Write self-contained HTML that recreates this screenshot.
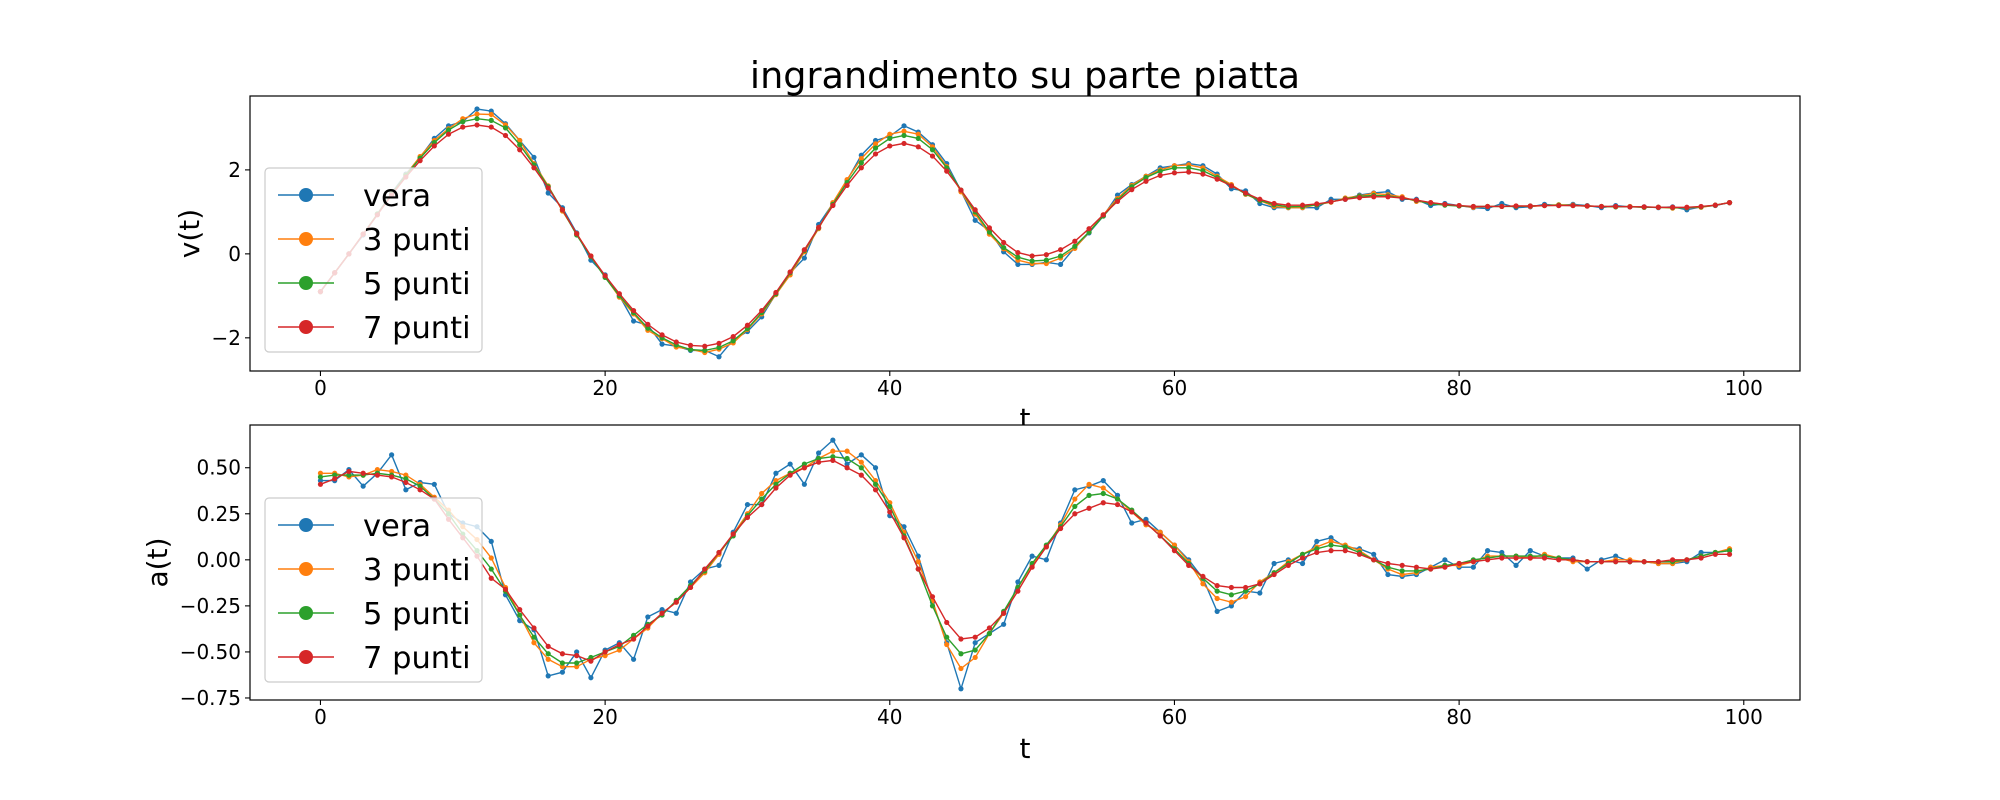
<!DOCTYPE html>
<html><head><meta charset="utf-8"><style>
html,body{margin:0;padding:0;background:#fff;}
svg{display:block;font-family:"DejaVu Sans","Liberation Sans",sans-serif;}
</style></head><body>
<svg id="fig" width="2000" height="800" viewBox="0 0 2000 800" xmlns="http://www.w3.org/2000/svg">
<rect width="2000" height="800" fill="#fff"/>
<text x="1025" y="88" font-size="36.6" text-anchor="middle">ingrandimento su parte piatta</text>
<g id="top"></g>
<text x="1025" y="428" font-size="28" text-anchor="middle">t</text>
<g id="bot"></g>
<text x="1025" y="758" font-size="28" text-anchor="middle">t</text>
</svg>
<script>
const tValues=[];for(let i=0;i<100;i++)tValues.push(i);
const seriesNames=["vera","3 punti","5 punti","7 punti"];
const xTicks=[0,20,40,60,80,100];
const vTicks=[-2,0,2];
const aTicks=[-0.75,-0.5,-0.25,0,0.25,0.5];
const aTickLabels=["\u22120.75","\u22120.50","\u22120.25","0.00","0.25","0.50"];
const vTickLabels=["\u22122","0","2"];
const vVera=[-0.9,-0.45,0,0.45,0.95,1.45,1.9,2.3,2.75,3.05,3.15,3.45,3.4,3.1,2.7,2.3,1.45,1.1,0.5,-0.15,-0.5,-1,-1.6,-1.7,-2.15,-2.2,-2.3,-2.3,-2.45,-2.05,-1.85,-1.5,-0.95,-0.45,-0.1,0.7,1.2,1.75,2.35,2.7,2.8,3.05,2.9,2.6,2.15,1.5,0.8,0.55,0.05,-0.25,-0.25,-0.2,-0.25,0.15,0.5,0.9,1.4,1.65,1.85,2.05,2.1,2.15,2.1,1.9,1.55,1.5,1.2,1.1,1.1,1.1,1.1,1.3,1.3,1.4,1.45,1.48,1.3,1.3,1.15,1.2,1.15,1.1,1.08,1.2,1.1,1.12,1.18,1.15,1.18,1.15,1.1,1.15,1.12,1.12,1.1,1.12,1.05,1.12,1.15,1.22];
const v3=[-0.9,-0.45,0,0.47,0.95,1.43,1.88,2.32,2.7,2.98,3.22,3.33,3.32,3.07,2.7,2.15,1.62,1.02,0.48,-0.05,-0.55,-1.03,-1.43,-1.82,-2.02,-2.22,-2.27,-2.35,-2.27,-2.12,-1.8,-1.43,-0.97,-0.5,0.05,0.6,1.22,1.77,2.27,2.62,2.85,2.92,2.85,2.55,2.08,1.48,0.95,0.47,0.12,-0.15,-0.23,-0.23,-0.1,0.13,0.52,0.93,1.32,1.63,1.85,2,2.1,2.12,2.05,1.85,1.65,1.42,1.27,1.13,1.1,1.1,1.17,1.23,1.33,1.38,1.44,1.41,1.36,1.25,1.22,1.17,1.15,1.11,1.13,1.13,1.14,1.13,1.15,1.17,1.16,1.14,1.13,1.12,1.13,1.11,1.11,1.09,1.1,1.11,1.16,1.22];
const v5=[-0.9,-0.45,0,0.47,0.95,1.42,1.87,2.28,2.65,2.95,3.15,3.22,3.18,3,2.6,2.12,1.6,1.05,0.45,-0.07,-0.56,-1,-1.4,-1.77,-2,-2.17,-2.28,-2.3,-2.23,-2.07,-1.78,-1.4,-0.95,-0.45,0.08,0.62,1.18,1.7,2.17,2.52,2.75,2.82,2.75,2.48,2.05,1.52,1,0.52,0.15,-0.08,-0.17,-0.15,-0.05,0.18,0.52,0.9,1.28,1.6,1.82,1.97,2.05,2.05,1.98,1.82,1.62,1.43,1.27,1.17,1.12,1.13,1.17,1.24,1.31,1.37,1.39,1.38,1.33,1.27,1.2,1.16,1.14,1.13,1.13,1.13,1.13,1.14,1.15,1.16,1.15,1.14,1.13,1.12,1.12,1.11,1.11,1.1,1.1,1.12,1.16,1.22];
const v7=[-0.9,-0.45,0,0.47,0.93,1.4,1.83,2.22,2.57,2.85,3.02,3.07,3.02,2.82,2.48,2.05,1.57,1.05,0.48,-0.05,-0.52,-0.95,-1.35,-1.68,-1.93,-2.1,-2.18,-2.2,-2.13,-1.97,-1.7,-1.35,-0.92,-0.43,0.1,0.63,1.15,1.63,2.05,2.38,2.57,2.63,2.55,2.33,1.97,1.52,1.05,0.62,0.27,0.03,-0.05,-0.02,0.1,0.3,0.6,0.93,1.25,1.53,1.73,1.87,1.93,1.95,1.9,1.78,1.62,1.45,1.3,1.2,1.16,1.16,1.19,1.24,1.3,1.34,1.36,1.36,1.33,1.28,1.22,1.18,1.15,1.13,1.13,1.13,1.14,1.14,1.15,1.15,1.15,1.14,1.13,1.13,1.12,1.12,1.11,1.11,1.11,1.13,1.16,1.22];
const aVera=[0.43,0.43,0.49,0.4,0.47,0.57,0.38,0.42,0.41,0.25,0.2,0.18,0.1,-0.19,-0.33,-0.38,-0.63,-0.61,-0.5,-0.64,-0.49,-0.45,-0.54,-0.31,-0.27,-0.29,-0.12,-0.05,-0.03,0.15,0.3,0.3,0.47,0.52,0.41,0.58,0.65,0.52,0.57,0.5,0.24,0.18,0.02,-0.23,-0.45,-0.7,-0.45,-0.4,-0.35,-0.12,0.02,0,0.2,0.38,0.4,0.43,0.35,0.2,0.22,0.15,0.08,0,-0.1,-0.28,-0.25,-0.17,-0.18,-0.02,0,-0.02,0.1,0.12,0.07,0.06,0.03,-0.08,-0.09,-0.08,-0.04,0,-0.04,-0.04,0.05,0.04,-0.03,0.05,0.02,0.01,0.01,-0.05,0,0.02,-0.01,-0.01,-0.02,-0.02,-0.01,0.04,0.04,0.05];
const a3=[0.47,0.47,0.45,0.46,0.49,0.48,0.46,0.41,0.34,0.27,0.18,0.11,0.01,-0.15,-0.3,-0.45,-0.54,-0.58,-0.58,-0.54,-0.52,-0.49,-0.43,-0.37,-0.29,-0.23,-0.15,-0.07,0.03,0.14,0.25,0.36,0.43,0.47,0.5,0.55,0.59,0.59,0.53,0.43,0.31,0.15,-0.01,-0.22,-0.46,-0.59,-0.53,-0.4,-0.29,-0.15,-0.03,0.07,0.19,0.33,0.41,0.39,0.33,0.26,0.19,0.15,0.08,-0.01,-0.13,-0.21,-0.23,-0.2,-0.12,-0.07,-0.01,0.03,0.07,0.1,0.08,0.05,0,-0.05,-0.08,-0.07,-0.04,-0.03,-0.03,-0.01,0.02,0.02,0.02,0.01,0.03,0.01,-0.01,-0.01,-0.01,0,0,-0.01,-0.02,-0.02,0,0.02,0.04,0.06];
const a5=[0.45,0.46,0.46,0.46,0.47,0.46,0.44,0.4,0.33,0.25,0.14,0.05,-0.05,-0.17,-0.3,-0.42,-0.51,-0.56,-0.56,-0.53,-0.5,-0.47,-0.41,-0.35,-0.3,-0.22,-0.14,-0.06,0.04,0.13,0.24,0.33,0.41,0.47,0.52,0.55,0.56,0.55,0.5,0.41,0.29,0.13,-0.05,-0.25,-0.42,-0.51,-0.49,-0.4,-0.28,-0.15,-0.02,0.08,0.18,0.29,0.35,0.36,0.33,0.27,0.2,0.13,0.06,-0.02,-0.1,-0.17,-0.19,-0.17,-0.13,-0.07,-0.02,0.03,0.06,0.08,0.07,0.04,0,-0.04,-0.06,-0.06,-0.05,-0.03,-0.02,0,0.01,0.02,0.02,0.02,0.02,0.01,0,-0.01,-0.01,-0.01,-0.01,-0.01,-0.01,-0.01,0,0.02,0.04,0.05];
const a7=[0.41,0.44,0.48,0.47,0.46,0.45,0.42,0.38,0.33,0.22,0.12,0.02,-0.1,-0.16,-0.27,-0.37,-0.47,-0.51,-0.52,-0.55,-0.5,-0.46,-0.43,-0.36,-0.29,-0.23,-0.15,-0.05,0.04,0.14,0.23,0.3,0.39,0.46,0.5,0.53,0.54,0.5,0.46,0.38,0.26,0.12,-0.05,-0.2,-0.34,-0.43,-0.42,-0.37,-0.29,-0.17,-0.04,0.07,0.17,0.25,0.28,0.31,0.3,0.26,0.2,0.13,0.05,-0.03,-0.09,-0.14,-0.15,-0.15,-0.13,-0.08,-0.03,0.01,0.04,0.05,0.05,0.03,0,-0.02,-0.03,-0.04,-0.05,-0.04,-0.02,-0.01,0,0.01,0.01,0.01,0.01,0,0,-0.01,-0.01,-0.01,-0.01,-0.01,-0.01,0,0,0.01,0.03,0.03];
const colors=["#1f77b4","#ff7f0e","#2ca02c","#d62728"];
const NS="http://www.w3.org/2000/svg";
function mk(tag,attrs,parent){const e=document.createElementNS(NS,tag);for(const k in attrs)e.setAttribute(k,attrs[k]);parent.appendChild(e);return e;}
const L=250,R=1800,XMIN=-4.95,XMAX=103.95;
function xs(t){return L+(t-XMIN)/(XMAX-XMIN)*(R-L);}
function panel(g,top,bot,ymin,ymax,series,ticks,tickLabels,ylabel,ylabelX,legTop,prefix){
  const ys=v=>bot-(v-ymin)/(ymax-ymin)*(bot-top);
  const bg=mk('rect',{x:L,y:top,width:R-L,height:bot-top,fill:'#fff'},g);
  
  
  const clipId=prefix+'clip';
  const cp=mk('clipPath',{id:clipId},g);mk('rect',{x:L,y:top,width:R-L,height:bot-top},cp);
  const sg=mk('g',{'clip-path':'url(#'+clipId+')'},g);
  series.forEach((vals,si)=>{
    const sgr=mk('g',{},sg);
    
    
    const pts=vals.map((v,i)=>xs(tValues[i]).toFixed(1)+','+ys(v).toFixed(1)).join(' ');
    mk('polyline',{points:pts,fill:'none',stroke:colors[si],'stroke-width':1.4},sgr);
    vals.forEach((v,i)=>{const c=mk('circle',{cx:xs(tValues[i]),cy:ys(v),r:2.6,fill:colors[si]},sgr);
      
      });
  });
  const fr=mk('rect',{x:L,y:top,width:R-L,height:bot-top,fill:'none',stroke:'#000','stroke-width':1.2},g);
  
  
  xTicks.forEach(t=>{const x=xs(t);mk('line',{x1:x,y1:bot,x2:x,y2:bot+5,stroke:'#000','stroke-width':1.1},g);
    const tx=mk('text',{x:x,y:bot+24,'font-size':20,'text-anchor':'middle'},g);tx.textContent=t;
    
    });
  ticks.forEach((t,i)=>{const y=ys(t);mk('line',{x1:L-5,y1:y,x2:L,y2:y,stroke:'#000','stroke-width':1.1},g);
    const tx=mk('text',{x:L-9,y:y+7,'font-size':20,'text-anchor':'end'},g);tx.textContent=tickLabels[i];
    
    });
  const cy=(top+bot)/2;
  const yl=mk('text',{x:0,y:0,'font-size':28,'text-anchor':'middle',transform:'translate('+ylabelX+','+cy+') rotate(-90)'},g);
  yl.textContent=ylabel;
  
  
  const lg=mk('g',{},g);
  
  
  mk('rect',{x:265,y:legTop,width:217,height:184,rx:4,fill:'#fff','fill-opacity':0.8,stroke:'#ccc','stroke-width':1.2},lg);
  seriesNames.forEach((n,i)=>{const y=legTop+27+i*44;
    const e=mk('g',{},lg);
    
    
    mk('line',{x1:278,y1:y,x2:334,y2:y,stroke:colors[i],'stroke-width':1.4},e);
    mk('circle',{cx:306,cy:y,r:7,fill:colors[i]},e);
    const tx=mk('text',{x:363,y:y+11,'font-size':30.5},e);tx.textContent=n;});
}
panel(document.getElementById('top'),96,371,-2.79,3.76,[vVera,v3,v5,v7],vTicks,vTickLabels,'v(t)',199,168,'top');
panel(document.getElementById('bot'),425,700,-0.761,0.732,[aVera,a3,a5,a7],aTicks,aTickLabels,'a(t)',167,498,'bottom');
</script>
</body></html>
